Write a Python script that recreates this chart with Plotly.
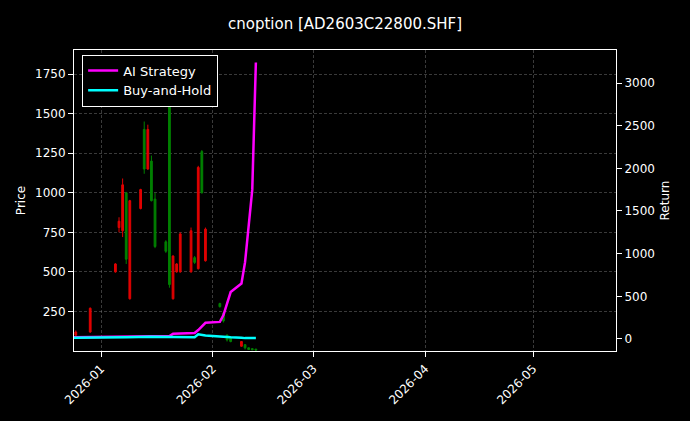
import plotly.graph_objects as go

c_dates = ["2025-12-25","2025-12-29","2026-01-05","2026-01-06","2026-01-07","2026-01-08","2026-01-09",
           "2026-01-12","2026-01-13","2026-01-14","2026-01-15","2026-01-16","2026-01-19","2026-01-20",
           "2026-01-21","2026-01-22","2026-01-23","2026-01-26","2026-01-27","2026-01-28","2026-01-29",
           "2026-01-30","2026-02-03","2026-02-04","2026-02-05","2026-02-06","2026-02-09","2026-02-10",
           "2026-02-11","2026-02-12","2026-02-13"]
c_open  = [100,120,500,780,760,1000,330,900,1400,1150,1200,960,690,1700,330,500,500,500,590,520,1260,570,300,240,100,80,30,40,20,15,12]
c_close = [120,270,550,820,1050,580,950,1020,1150,1400,950,660,630,420,600,550,740,760,560,1160,1000,770,280,190,70,60,60,20,10,8,6]
c_high  = [130,275,555,845,1090,1005,955,1025,1450,1430,1235,1000,700,1760,605,555,750,780,600,1170,1270,780,305,245,105,85,62,42,22,16,13]
c_low   = [95,115,495,750,720,550,325,895,1120,1145,945,650,620,400,325,495,495,495,550,515,995,565,275,180,60,55,28,10,8,6,4]

r_dates = ["2025-12-24","2025-12-31","2026-01-08","2026-01-15","2026-01-20","2026-01-21","2026-01-27",
           "2026-01-28","2026-01-30","2026-02-03","2026-02-04","2026-02-06","2026-02-09","2026-02-10",
           "2026-02-12","2026-02-13"]
ai_ret  = [20,22,25,30,35,60,70,105,190,200,280,550,650,900,1750,3240]
bh_ret  = [15,15,20,25,25,20,20,55,40,30,25,20,15,10,10,10]

fig = go.Figure()
fig.add_trace(go.Candlestick(x=c_dates, open=c_open, high=c_high, low=c_low, close=c_close,
    increasing=dict(line=dict(color="#e00000", width=1), fillcolor="#e00000"),
    decreasing=dict(line=dict(color="#008000", width=1), fillcolor="#008000"),
    whiskerwidth=0, showlegend=False, yaxis="y"))
fig.add_trace(go.Scatter(x=r_dates, y=ai_ret, mode="lines", name="AI Strategy",
    line=dict(color="#ff00ff", width=2.5), yaxis="y2"))
fig.add_trace(go.Scatter(x=r_dates, y=bh_ret, mode="lines", name="Buy-and-Hold",
    line=dict(color="#00ffff", width=2.5), yaxis="y2"))

grid = dict(showgrid=True, gridcolor="rgba(128,128,128,0.45)", griddash="3px,2px", gridwidth=0.6)
fig.update_layout(
    width=690, height=421, paper_bgcolor="black", plot_bgcolor="black",
    font=dict(family="DejaVu Sans", color="white", size=12),
    title=dict(text="cnoption [AD2603C22800.SHF]", x=0.5, y=0.955, xanchor="center", font=dict(size=15)),
    margin=dict(l=74, r=74, t=50, b=70),
    xaxis=dict(type="date", range=["2025-12-24 12:00", "2026-05-24"], rangeslider=dict(visible=False),
               tickvals=["2026-01-01","2026-02-01","2026-03-01","2026-04-01","2026-05-01"],
               ticktext=["2026-01","2026-02","2026-03","2026-04","2026-05"], tickangle=-45,
               showline=True, linecolor="white", mirror=True, ticks="outside", tickcolor="white", **grid),
    yaxis=dict(title=dict(text="Price", standoff=6, font=dict(size=12)), range=[0, 1902], tickvals=[250,500,750,1000,1250,1500,1750],
               showline=True, linecolor="white", ticks="outside", tickcolor="white", zeroline=False, **grid),
    yaxis2=dict(title=dict(text="Return", standoff=6, font=dict(size=12)), overlaying="y", side="right", range=[-141, 3387],
                tickvals=[0,500,1000,1500,2000,2500,3000], showgrid=False, zeroline=False,
                showline=True, linecolor="white", ticks="outside", tickcolor="white"),
    legend=dict(x=0.015, y=0.985, xanchor="left", yanchor="top", bgcolor="black",
                bordercolor="white", borderwidth=1, font=dict(size=13)),
)
fig.write_html("out.html", config={"displayModeBar": False},
               post_script="document.body.style.margin='0';document.body.style.background='black';")
